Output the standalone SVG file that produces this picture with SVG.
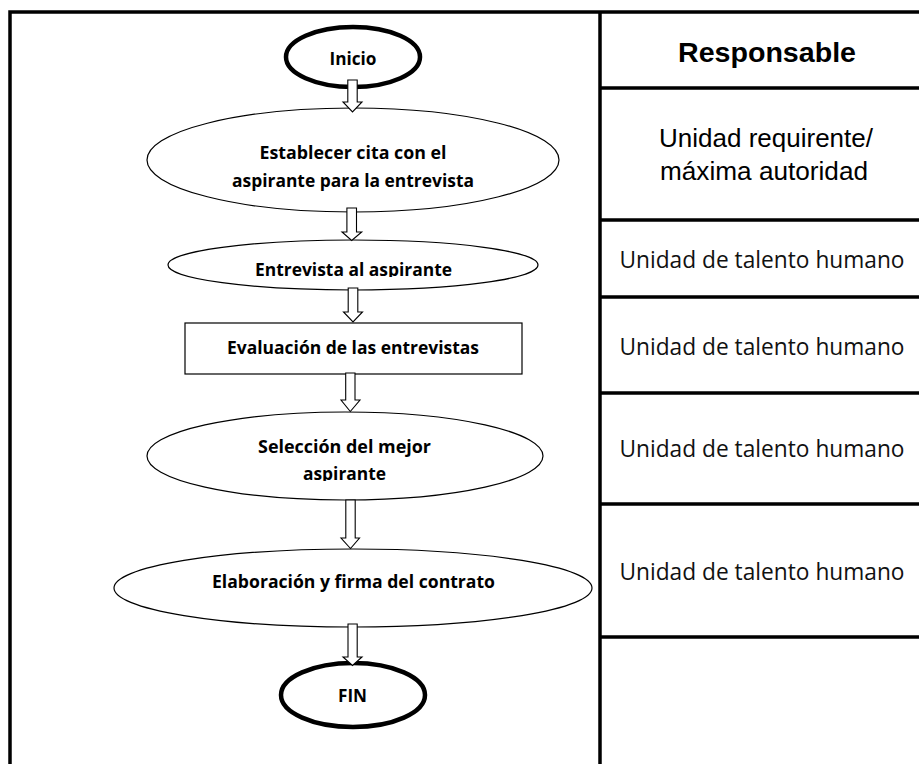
<svg xmlns="http://www.w3.org/2000/svg" width="919" height="764" viewBox="0 0 919 764">
  <style>
    .frame { stroke: #000; stroke-width: 3.5; fill: none; }
    .step { fill: #fff; stroke: #000; stroke-width: 1.2; }
    .term { fill: #fff; stroke: #000; stroke-width: 4.5; }
    .flow { fill: #fff; stroke: #000; stroke-width: 1.1; stroke-linejoin: miter; }
    .lbl { font-family: "Open Sans", "Noto Sans", sans-serif; font-weight: bold; font-size: 18px; fill: #000; text-anchor: middle; }
    .head { font-family: "Liberation Sans", Arial, sans-serif; font-weight: bold; font-size: 28px; fill: #000; text-anchor: middle; }
    .who { font-family: "Liberation Sans", Arial, sans-serif; font-size: 26px; fill: #000; text-anchor: middle; }
    .unit { font-family: "Open Sans", "Noto Sans", sans-serif; font-size: 24px; fill: #111; text-anchor: middle; }
  </style>
  <defs>
    <clipPath id="clipEntrevista"><rect x="150" y="240" width="400" height="37"/></clipPath>
    <clipPath id="clipSeleccion"><rect x="150" y="412" width="400" height="69"/></clipPath>
  </defs>

  <rect width="919" height="764" fill="#fff"/>

  <!-- table frame -->
  <g id="table">
    <path class="frame" d="M10 764 V12 H919"/>
    <path class="frame" d="M600 12 V764"/>
    <path class="frame" d="M600 88 H919 M600 220 H919 M600 297 H919 M600 393 H919 M600 504 H919 M600 637 H919"/>
    <text class="head" x="767" y="62" textLength="178" lengthAdjust="spacingAndGlyphs">Responsable</text>
    <text class="who" x="766" y="147" textLength="214" lengthAdjust="spacingAndGlyphs">Unidad requirente/</text>
    <text class="who" x="764" y="180" textLength="208" lengthAdjust="spacingAndGlyphs">máxima autoridad</text>
    <text class="unit" x="762" y="268" textLength="285" lengthAdjust="spacingAndGlyphs">Unidad de talento humano</text>
    <text class="unit" x="762" y="355" textLength="285" lengthAdjust="spacingAndGlyphs">Unidad de talento humano</text>
    <text class="unit" x="762" y="457" textLength="285" lengthAdjust="spacingAndGlyphs">Unidad de talento humano</text>
    <text class="unit" x="762" y="580" textLength="285" lengthAdjust="spacingAndGlyphs">Unidad de talento humano</text>
  </g>

  <!-- flowchart nodes -->
  <g id="inicio">
    <ellipse class="term" cx="353" cy="57" rx="67" ry="30"/>
    <text class="lbl" x="353" y="65" textLength="47" lengthAdjust="spacingAndGlyphs">Inicio</text>
  </g>
  <g id="establecer-cita">
    <ellipse class="step" cx="353" cy="160" rx="206" ry="52"/>
    <text class="lbl" x="353" y="159" textLength="187" lengthAdjust="spacingAndGlyphs">Establecer cita con el</text>
    <text class="lbl" x="353" y="187" textLength="242" lengthAdjust="spacingAndGlyphs">aspirante para la entrevista</text>
  </g>
  <g id="entrevista">
    <ellipse class="step" cx="353" cy="265" rx="185" ry="25"/>
    <text class="lbl" x="353.5" y="276" textLength="197" lengthAdjust="spacingAndGlyphs" clip-path="url(#clipEntrevista)">Entrevista al aspirante</text>
  </g>
  <g id="evaluacion">
    <rect class="step" x="185" y="323" width="337" height="51"/>
    <text class="lbl" x="353" y="354" textLength="252" lengthAdjust="spacingAndGlyphs">Evaluación de las entrevistas</text>
  </g>
  <g id="seleccion">
    <ellipse class="step" cx="345" cy="456" rx="198" ry="44"/>
    <text class="lbl" x="344.5" y="453" textLength="173" lengthAdjust="spacingAndGlyphs">Selección del mejor</text>
    <text class="lbl" x="344.5" y="480" textLength="83" lengthAdjust="spacingAndGlyphs" clip-path="url(#clipSeleccion)">aspirante</text>
  </g>
  <g id="contrato">
    <ellipse class="step" cx="353" cy="588" rx="239" ry="39"/>
    <text class="lbl" x="353.5" y="588" textLength="283" lengthAdjust="spacingAndGlyphs">Elaboración y firma del contrato</text>
  </g>
  <g id="fin">
    <ellipse class="term" cx="353" cy="695" rx="72" ry="32"/>
    <text class="lbl" x="352.5" y="702" textLength="29" lengthAdjust="spacingAndGlyphs">FIN</text>
  </g>

  <!-- hollow block arrows between steps -->
  <g id="connectors">
    <path class="flow" d="M347.8 80 H357.2 V102 H362 L352.5 112 L343 102 H347.8 Z"/>
    <path class="flow" d="M346.9 208 H356.5 V232 H361.7 L351.7 240.5 L342 232 H346.9 Z"/>
    <path class="flow" d="M348.2 288 H357.8 V312 H362.5 L353 322 L343.5 312 H348.2 Z"/>
    <path class="flow" d="M345.7 373 H355 V400 H360 L350.3 411.5 L341 400 H345.7 Z"/>
    <path class="flow" d="M345.8 500 H355.2 V538 H359.5 L350.5 548.5 L341 538 H345.8 Z"/>
    <path class="flow" d="M348 624 H357.2 V657 H362 L352.5 665.5 L343 657 H348 Z"/>
  </g>
</svg>
